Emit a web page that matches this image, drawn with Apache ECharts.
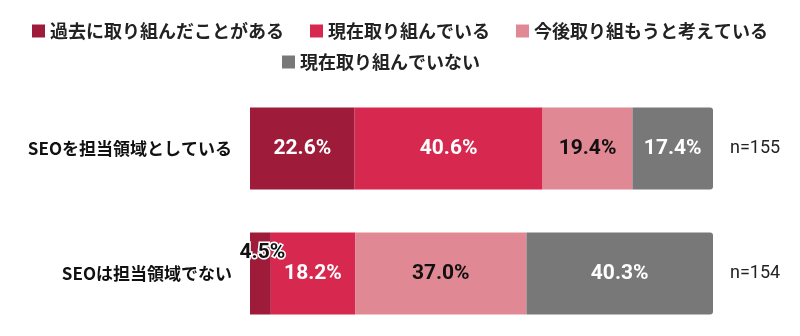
<!DOCTYPE html>
<html>
<head>
<meta charset="utf-8">
<script src="https://cdn.jsdelivr.net/npm/echarts@6/dist/echarts.min.js"></script>
<style>
  html, body { margin: 0; padding: 0; background: #fff; }
  #chart { width: 800px; height: 336px; }
</style>
</head>
<body>
<div id="chart"></div>
<script>
// Survey groups (top to bottom) and their sample sizes
const categories = ['SEOを担当領域としている', 'SEOは担当領域でない'];
const sampleSizes = ['n=155', 'n=154'];

// Response shares (%) per group
const seriesNames = ['過去に取り組んだことがある', '現在取り組んでいる', '今後取り組もうと考えている', '現在取り組んでいない'];
const pastValues = [22.6, 4.5];
const currentValues = [40.6, 18.2];
const plannedValues = [19.4, 37.0];
const notValues = [17.4, 40.3];

const colors = ['#9e1c3a', '#d7294f', '#e08893', '#787878'];
const labelColors = ['#ffffff', '#ffffff', '#111111', '#ffffff'];
const cjk = '"Noto Sans CJK JP", "Noto Sans", sans-serif';
const numFont = 'Roboto, "Noto Sans", sans-serif';

const chart = echarts.init(document.getElementById('chart'), null, { renderer: 'canvas' });

const valueSets = [pastValues, currentValues, plannedValues, notValues];

const series = seriesNames.map((name, i) => ({
  name: name,
  type: 'bar',
  stack: 'total',
  barWidth: 82,
  itemStyle: {
    color: colors[i],
    borderRadius: i === 3 ? [0, 3, 3, 0] : 0
  },
  label: {
    show: true,
    position: 'inside',
    fontFamily: numFont,
    fontWeight: 'bold',
    fontSize: 21,
    color: labelColors[i],
    formatter: p => p.value.toFixed(1) + '%'
  },
  data: valueSets[i].map(v => {
    // very narrow segments get their label lifted above the bar centre
    if (v < 8) {
      return {
        value: v,
        label: {
          color: '#111111',
          textBorderColor: '#ffffff',
          textBorderWidth: 3,
          offset: [2, -21]
        }
      };
    }
    return v;
  })
}));

const legendText = { fontFamily: cjk, fontWeight: 'bold', fontSize: 18, color: '#222' };

chart.setOption({
  animation: false,
  backgroundColor: '#ffffff',
  color: colors,
  legend: [
    {
      data: seriesNames.slice(0, 3),
      top: 17,
      left: 'center',
      itemWidth: 13,
      itemHeight: 13,
      itemGap: 26,
      icon: 'rect',
      textStyle: legendText,
      selectedMode: false
    },
    {
      data: seriesNames.slice(3),
      top: 48,
      left: 277,
      itemWidth: 13,
      itemHeight: 13,
      icon: 'rect',
      textStyle: legendText,
      selectedMode: false
    }
  ],
  grid: { left: 250, right: 87, top: 86, height: 252 },
  xAxis: {
    type: 'value',
    min: 0,
    max: 100,
    show: false
  },
  yAxis: [
    {
      type: 'category',
      data: categories,
      inverse: true,
      axisLine: { show: false },
      axisTick: { show: false },
      axisLabel: {
        margin: 18,
        fontFamily: cjk,
        fontWeight: 'bold',
        fontSize: 17,
        color: '#111'
      }
    },
    {
      type: 'category',
      data: sampleSizes,
      inverse: true,
      position: 'right',
      axisLine: { show: false },
      axisTick: { show: false },
      axisLabel: {
        margin: 17,
        fontFamily: numFont,
        fontSize: 18,
        color: '#222'
      }
    }
  ],
  series: series
});
</script>
</body>
</html>
